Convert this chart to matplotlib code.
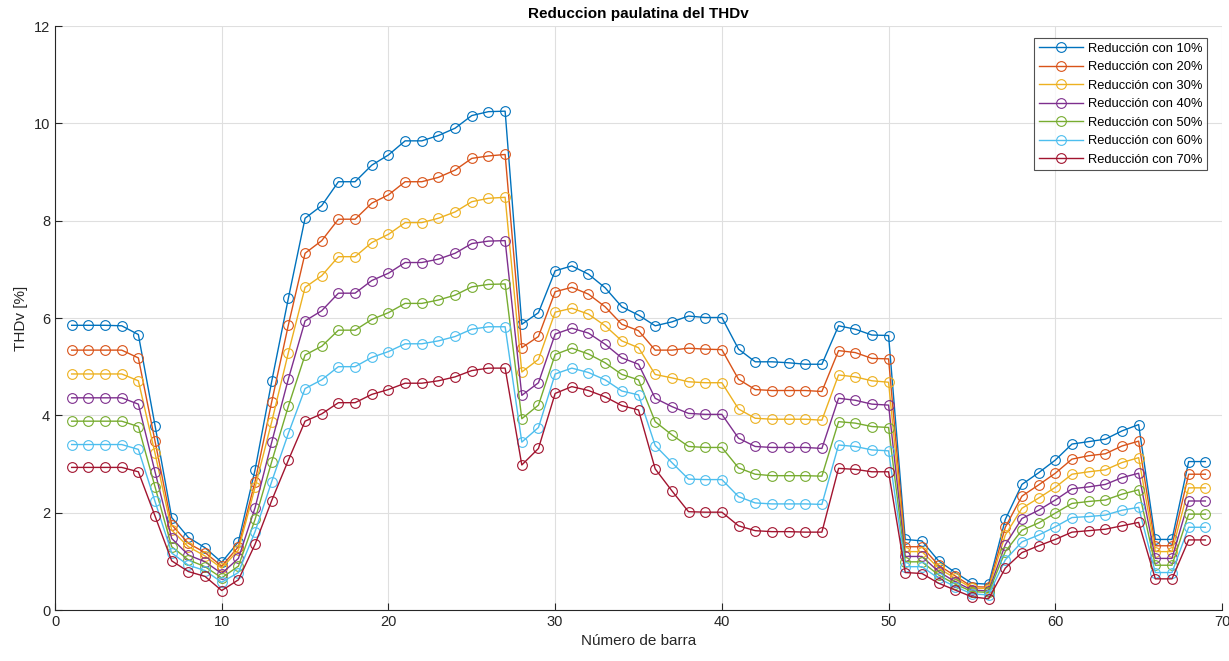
import numpy as np
import matplotlib
matplotlib.use("Agg")
import matplotlib.pyplot as plt

# Número de barra 1..69
barras = np.arange(1, 70)

thd_10 = [5.85, 5.85, 5.85, 5.84, 5.66, 3.79, 1.90, 1.49, 1.28, 0.98, 1.40, 2.88, 4.70, 6.41,
          8.05, 8.31, 8.80, 8.80, 9.14, 9.35, 9.64, 9.64, 9.75, 9.90, 10.16, 10.24, 10.25,
          5.87, 6.11, 6.97, 7.07, 6.90, 6.62, 6.23, 6.06, 5.84, 5.92, 6.04, 6.01, 6.01,
          5.36, 5.10, 5.10, 5.08, 5.05, 5.05, 5.84, 5.77, 5.65, 5.64,
          1.45, 1.42, 1.01, 0.77, 0.55, 0.53, 1.86, 2.58, 2.82, 3.08, 3.41, 3.46, 3.51, 3.68, 3.81,
          1.45, 1.45, 3.05, 3.05]
thd_20 = [5.34, 5.34, 5.34, 5.34, 5.18, 3.47, 1.75, 1.37, 1.18, 0.90, 1.30, 2.64, 4.28, 5.86,
          7.33, 7.59, 8.03, 8.03, 8.36, 8.53, 8.80, 8.80, 8.89, 9.04, 9.28, 9.33, 9.36,
          5.39, 5.62, 6.54, 6.63, 6.49, 6.23, 5.87, 5.74, 5.34, 5.34, 5.38, 5.36, 5.35,
          4.74, 4.53, 4.51, 4.51, 4.51, 4.49, 5.33, 5.29, 5.17, 5.16,
          1.30, 1.30, 0.92, 0.70, 0.48, 0.47, 1.70, 2.34, 2.57, 2.81, 3.10, 3.17, 3.21, 3.37, 3.47,
          1.32, 1.32, 2.79, 2.79]
thd_30 = [4.85, 4.85, 4.85, 4.85, 4.71, 3.22, 1.64, 1.30, 1.11, 0.86, 1.23, 2.52, 3.87, 5.29,
          6.63, 6.87, 7.26, 7.26, 7.55, 7.72, 7.96, 7.96, 8.05, 8.18, 8.39, 8.46, 8.48,
          4.89, 5.15, 6.12, 6.20, 6.08, 5.84, 5.53, 5.39, 4.84, 4.77, 4.69, 4.67, 4.67,
          4.13, 3.94, 3.92, 3.92, 3.92, 3.90, 4.83, 4.79, 4.71, 4.68,
          1.20, 1.20, 0.86, 0.65, 0.45, 0.44, 1.54, 2.09, 2.30, 2.52, 2.79, 2.84, 2.88, 3.03, 3.13,
          1.20, 1.20, 2.51, 2.51]
thd_40 = [4.36, 4.36, 4.36, 4.36, 4.23, 2.84, 1.47, 1.13, 0.99, 0.75, 1.06, 2.10, 3.45, 4.75,
          5.94, 6.15, 6.51, 6.51, 6.77, 6.92, 7.14, 7.14, 7.21, 7.33, 7.53, 7.58, 7.59,
          4.41, 4.67, 5.67, 5.79, 5.69, 5.46, 5.18, 5.05, 4.35, 4.18, 4.04, 4.02, 4.02,
          3.53, 3.36, 3.34, 3.34, 3.34, 3.32, 4.35, 4.31, 4.23, 4.21,
          1.10, 1.10, 0.79, 0.58, 0.41, 0.39, 1.34, 1.88, 2.05, 2.26, 2.49, 2.53, 2.58, 2.72, 2.81,
          1.06, 1.06, 2.24, 2.24]
thd_50 = [3.88, 3.88, 3.88, 3.88, 3.77, 2.53, 1.30, 1.03, 0.89, 0.66, 0.90, 1.86, 3.05, 4.19,
          5.24, 5.42, 5.75, 5.75, 5.97, 6.11, 6.30, 6.30, 6.37, 6.47, 6.64, 6.69, 6.70,
          3.93, 4.21, 5.25, 5.38, 5.26, 5.08, 4.84, 4.73, 3.87, 3.60, 3.36, 3.34, 3.34,
          2.92, 2.79, 2.76, 2.76, 2.76, 2.75, 3.87, 3.84, 3.77, 3.75,
          0.99, 0.99, 0.72, 0.53, 0.38, 0.36, 1.20, 1.64, 1.79, 1.99, 2.19, 2.23, 2.26, 2.38, 2.47,
          0.92, 0.92, 1.97, 1.97]
thd_60 = [3.40, 3.40, 3.40, 3.40, 3.30, 2.23, 1.17, 0.92, 0.81, 0.57, 0.77, 1.61, 2.64, 3.63,
          4.55, 4.73, 5.00, 5.00, 5.19, 5.31, 5.47, 5.47, 5.53, 5.62, 5.77, 5.82, 5.82,
          3.45, 3.75, 4.85, 4.97, 4.88, 4.73, 4.50, 4.42, 3.38, 3.03, 2.69, 2.68, 2.68,
          2.33, 2.20, 2.18, 2.18, 2.18, 2.17, 3.39, 3.36, 3.29, 3.27,
          0.89, 0.89, 0.65, 0.48, 0.33, 0.31, 1.03, 1.40, 1.54, 1.71, 1.90, 1.92, 1.95, 2.05, 2.11,
          0.77, 0.77, 1.70, 1.70]
thd_70 = [2.93, 2.93, 2.93, 2.93, 2.84, 1.93, 1.01, 0.79, 0.69, 0.40, 0.62, 1.35, 2.25, 3.08,
          3.88, 4.03, 4.26, 4.26, 4.43, 4.53, 4.66, 4.66, 4.71, 4.79, 4.92, 4.97, 4.97,
          2.98, 3.32, 4.45, 4.59, 4.51, 4.38, 4.20, 4.11, 2.90, 2.45, 2.02, 2.01, 2.01,
          1.73, 1.63, 1.61, 1.61, 1.60, 1.60, 2.91, 2.89, 2.84, 2.84,
          0.77, 0.75, 0.55, 0.41, 0.27, 0.23, 0.86, 1.18, 1.32, 1.45, 1.60, 1.63, 1.66, 1.73, 1.80,
          0.64, 0.64, 1.44, 1.44]

series = [thd_10, thd_20, thd_30, thd_40, thd_50, thd_60, thd_70]
etiquetas = ["Reducción con 10%", "Reducción con 20%", "Reducción con 30%", "Reducción con 40%",
             "Reducción con 50%", "Reducción con 60%", "Reducción con 70%"]
colores = ["#0072BD", "#D95319", "#EDB120", "#7E2F8E", "#77AC30", "#4DBEEE", "#A2142F"]

plt.rcParams['font.family'] = ['Liberation Sans', 'DejaVu Sans']

fig = plt.figure(figsize=(12.29, 6.61), dpi=100)
ax = fig.add_axes([55 / 1229, 1 - 610 / 661, 1167 / 1229, 584 / 661])

for y, lab, c in zip(series, etiquetas, colores):
    ax.plot(barras, y, color=c, lw=1.0, marker='o', ms=7, mfc='none', mew=0.8, label=lab)

ax.set_xlim(0, 70)
ax.set_ylim(0, 12)
ax.set_xticks(np.arange(0, 71, 10))
ax.set_yticks(np.arange(0, 13, 2))
ax.grid(True, color='#dfdfdf', lw=0.8)
ax.set_axisbelow(True)
ax.tick_params(direction='in', length=5, labelsize=10.5, colors='#262626')
for s in ['top', 'right']:
    ax.spines[s].set_visible(False)
for s in ['left', 'bottom']:
    ax.spines[s].set_color('#262626')

ax.set_title("Reduccion paulatina del THDv", fontsize=11, fontweight='bold', pad=6)
ax.set_xlabel("Número de barra", fontsize=11, color='#262626')
ax.set_ylabel("THDv [%]", fontsize=11, color='#262626')

leg = ax.legend(loc='upper right', bbox_to_anchor=(1207 / 1229, 1 - 38 / 661),
                bbox_transform=fig.transFigure, fontsize=9.3, frameon=True, fancybox=False,
                handlelength=3.4, handletextpad=0.4, borderpad=0.35, labelspacing=0.5,
                borderaxespad=0)
leg.get_frame().set_edgecolor('#262626')
leg.get_frame().set_linewidth(0.8)

plt.savefig("out.png", dpi=100)
